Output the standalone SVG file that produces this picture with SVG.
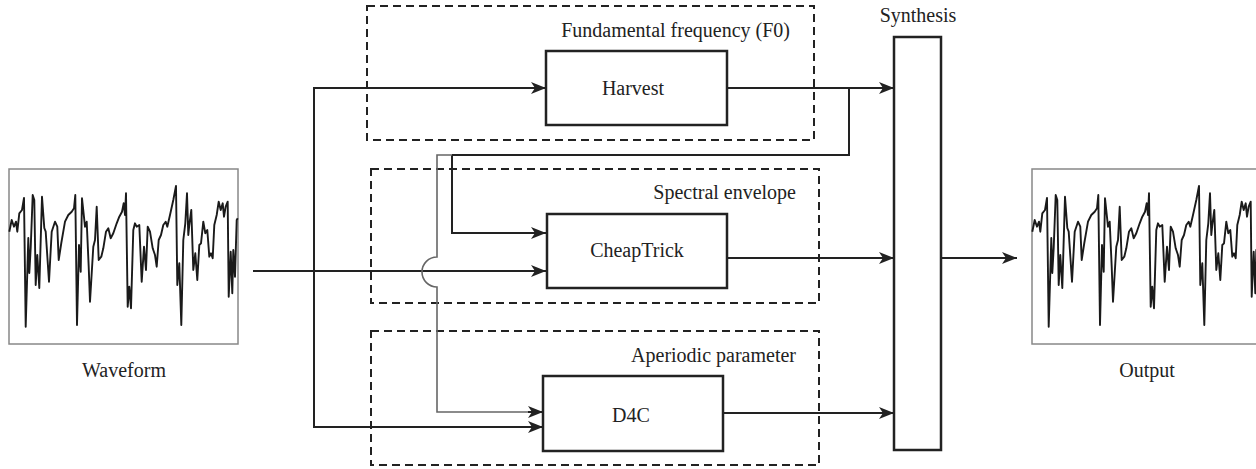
<svg xmlns="http://www.w3.org/2000/svg" xmlns:xlink="http://www.w3.org/1999/xlink" width="1256" height="469" viewBox="0 0 1256 469">
<style>
text{font-family:"Liberation Serif","Times New Roman",serif;font-size:20px;fill:#222}
.box{fill:#fff;stroke:#222;stroke-width:2.5}
.grp{fill:none;stroke:#222;stroke-width:2;stroke-dasharray:8,5}
.ln{fill:none;stroke:#222;stroke-width:2}
.gl{fill:none;stroke:#666;stroke-width:1.6}
.wbox{fill:#fff;stroke:#888;stroke-width:1.5}
.wave{fill:none;stroke:#1a1a1a;stroke-width:1.9;stroke-linejoin:round}
.arr{marker-end:url(#ah)}
</style>
<defs>
<marker id="ah" markerUnits="userSpaceOnUse" markerWidth="16" markerHeight="12" refX="15" refY="6" orient="auto">
<path d="M0,0 L15,6 L0,12 L4,6 z" fill="#222"/>
</marker>
<path id="wf" class="wave" d="M9.3,231.7 L11.7,220 L14,226.7 L16,221.7 L17.3,231.7 L19.3,213.3 L22,210 L24,198 L25.7,326.7 L28.3,238 L29.3,273 L30.7,248 L32.7,195 L34.3,200 L35.7,285 L37.3,255 L39.3,288 L42,196.7 L44.3,228 L45.7,231.7 L49,281.7 L51.7,231.7 L55,221.7 L57.3,226.7 L58.7,260 L61.3,243 L65,221.7 L68.3,215 L71.7,211.7 L74,208.3 L75.3,195 L77,325 L79,245 L80.7,271.7 L82,198.3 L85,226.7 L86.7,221.7 L88.7,266.7 L90,301.7 L93.3,246.7 L95,240 L96.7,206.7 L98.7,260 L101.3,256.7 L103.3,248.3 L106,231.7 L108.3,228.3 L110.7,238.3 L113.3,233.3 L116.7,223.3 L119.3,216.7 L122,211.7 L123.7,203.3 L125,215 L126,193.3 L127.7,306.7 L129.3,286.7 L131,308.3 L133.3,230 L135,223.3 L136.7,226.7 L139.3,225 L141.7,281.7 L144,246.7 L146,270 L147.7,226.7 L150,231.7 L152.7,248.3 L155,255 L156.7,266.7 L158.7,240 L161,235 L163.3,225 L165.7,221.7 L167.3,226.7 L170,215 L173.3,200 L176,186 L177.3,285 L179.3,263.3 L181.3,325 L183.3,240 L185.3,223.3 L187,193.3 L188.3,235 L189.3,225 L191.3,210 L193.3,270 L195.3,253.3 L197.3,280 L199.3,245 L201,243.3 L203.3,221.7 L205.3,233.3 L207.3,230 L209.3,256.7 L211,253.3 L212.7,258.3 L214.3,225 L216.7,215 L218.7,201.7 L220.7,210 L222.7,203.3 L224,216.7 L225.7,206.7 L227.7,201.7 L228.7,296.7 L230.7,251.7 L232.3,293.3 L233.3,250 L235,276.7 L236.7,220 L237.7,218.3"/>
</defs>

<g id="waveform">
<rect class="wbox" x="9" y="169" width="229" height="175"/>
<use xlink:href="#wf"/>
<text x="124" y="377" text-anchor="middle">Waveform</text>
</g>

<g id="output">
<rect class="wbox" x="1032" y="169" width="229" height="175"/>
<use xlink:href="#wf" transform="translate(1023,0)"/>
<text x="1147" y="377" text-anchor="middle">Output</text>
</g>

<g id="group-f0">
<rect class="grp" x="367" y="6" width="447" height="134"/>
<text x="790" y="37" text-anchor="end">Fundamental frequency (F0)</text>
</g>
<g id="group-spectral">
<rect class="grp" x="371" y="169" width="448" height="134"/>
<text x="796" y="199" text-anchor="end">Spectral envelope</text>
</g>
<g id="group-aperiodic">
<rect class="grp" x="371" y="331" width="448" height="134"/>
<text x="796" y="362" text-anchor="end">Aperiodic parameter</text>
</g>

<g id="connectors">
<path class="ln arr" d="M253,271 L546,271"/>
<path class="ln arr" d="M314,271 L314,88 L546,88"/>
<path class="ln arr" d="M314,271 L314,427 L543,427"/>
<path class="ln arr" d="M727,88 L894,88"/>
<path class="ln" d="M849,88 L849,155 L452,155"/>
<path class="ln arr" d="M452,155 L452,233 L546,233"/>
<path class="gl" d="M452,155 L437,155 L437,257 A15,15 0 0 0 437,287 L437,412 L530,412"/>
<path class="ln arr" d="M528,412 L543,412"/>
<path class="ln arr" d="M727,258 L894,258"/>
<path class="ln arr" d="M723,413 L894,413"/>
<path class="ln arr" d="M941,258 L1017,258"/>
</g>

<g id="harvest">
<rect class="box" x="546" y="51" width="181" height="74"/>
<text x="633" y="95" text-anchor="middle">Harvest</text>
</g>
<g id="cheaptrick">
<rect class="box" x="547" y="214" width="180" height="74"/>
<text x="637" y="257" text-anchor="middle">CheapTrick</text>
</g>
<g id="d4c">
<rect class="box" x="543" y="376" width="180" height="75"/>
<text x="631" y="422" text-anchor="middle">D4C</text>
</g>
<g id="synthesis">
<rect class="box" x="894" y="37" width="47" height="413"/>
<text x="918" y="22" text-anchor="middle">Synthesis</text>
</g>
</svg>
